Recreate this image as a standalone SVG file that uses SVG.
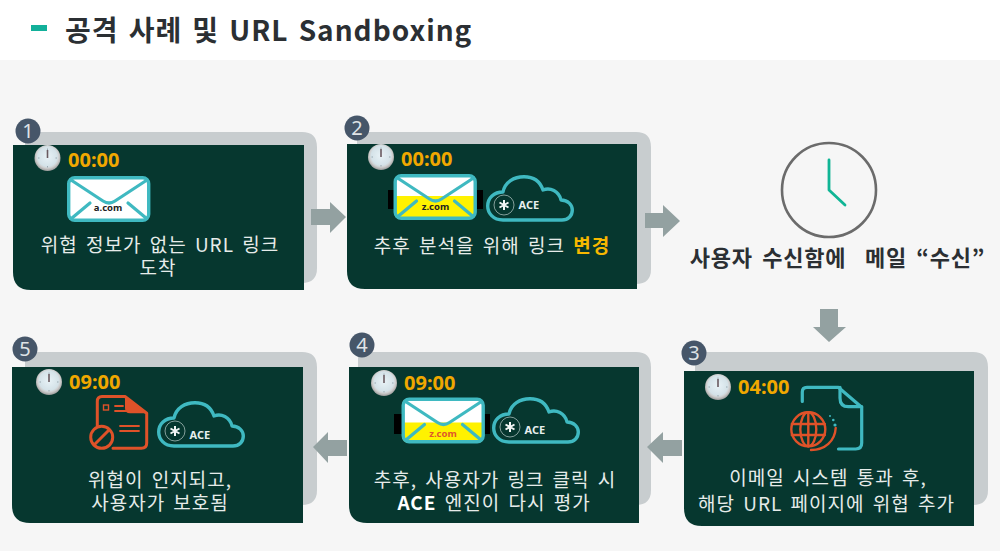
<svg xmlns="http://www.w3.org/2000/svg" width="1000" height="551" viewBox="0 0 1000 551">
<style>
text{font-family:"Noto Sans CJK KR","Noto Sans",sans-serif}
.card{fill:#06372f}
.back{fill:#c8cdcf}
.badge{fill:#465669}
.num{fill:#dfe3e6;font-family:"Noto Sans",sans-serif;font-size:20px;text-anchor:middle}
.time{fill:#f0a800;font-family:"Noto Sans",sans-serif;font-weight:700;font-size:20px}
.lbl{fill:#e6ecea;font-size:19px;text-anchor:middle;letter-spacing:1px;word-spacing:3px}
.em{font-weight:700}
.dom{font-family:"Noto Sans",sans-serif;font-weight:700;font-size:9.5px;text-anchor:middle}
.ace{fill:#e8efee;font-family:"Noto Sans",sans-serif;font-weight:700;font-size:11px}
.arrow{fill:#93a1a1}
.teal{fill:none;stroke:#3fb9c1;stroke-width:3.2;stroke-linecap:round;stroke-linejoin:round}
.org{fill:none;stroke:#df5229;stroke-linecap:round;stroke-linejoin:round}
</style>
<defs>
<radialGradient id="face" cx=".5" cy=".45" r=".55">
<stop offset="0" stop-color="#e8f2f6"/><stop offset=".68" stop-color="#d4e2e8"/><stop offset=".8" stop-color="#cfcfcf"/><stop offset="1" stop-color="#9a9a9a"/>
</radialGradient>
<g id="stopwatch">
<circle r="13" fill="url(#face)"/>
<path d="M0-8V0" stroke="#6a5a60" stroke-width="1.6"/>
<path d="M0-9.500V-8M0 8V9.500M-9.500 0H-8M8 0H9.500" stroke="#9aa9b0" stroke-width="1"/>
</g>
<g id="envline">
<rect x="1.700" y="1.700" width="80" height="42.500" rx="6" fill="none" stroke="#3fb9c1" stroke-width="3.400"/>
<path class="teal" d="M4 4L36 25Q42 29 48 25L80 4M5 42L23 27M79 42L61 27"/>
</g>
<g id="cloud">
<path class="teal" style="stroke-width:3.400" d="M17 45C7 45 1.700 38 1.700 31C1.700 23 8 17 17 17C19 7 28 1.700 38 1.700C47 1.700 54 6 57 15C64 12 73 16 75 25C82 25 86.300 30 86.300 35C86.300 41 82 45 76 45Z"/>
<circle cx="18" cy="30" r="10" fill="none" stroke="#b9cbc8" stroke-width=".7"/>
<path d="M18 25V35M13.500 27.500L22.500 32.500M22.500 27.500L13.500 32.500" stroke="#f2f6f5" stroke-width="2"/>
</g>
</defs>
<rect width="1000" height="551" fill="#f6f6f6"/>
<rect width="1000" height="60" fill="#ffffff"/>
<rect x="31" y="25" width="16" height="6" fill="#12b09a"/>
<text x="65" y="41" font-size="28" font-weight="700" fill="#2b2f33" letter-spacing="1" word-spacing="2.800">공격 사례 및 URL Sandboxing</text>

<g id="node1">
<path class="back" d="M25 132H302Q317 132 317 147V268Q317 283 302 283H25Z"/>
<path class="card" d="M13 145H304V290H31Q13 290 13 272Z"/>
<circle class="badge" cx="28" cy="131" r="12.500"/><text class="num" x="28" y="138">1</text>
<use href="#stopwatch" x="47.500" y="158"/>
<text class="time" x="68" y="167">00:00</text>
<g transform="translate(67 176)"><rect x="1" y="1" width="81" height="44" rx="6" fill="#fff"/><use href="#envline"/></g>
<text class="dom" x="108" y="211" fill="#222">a.com</text>
<text class="lbl" x="160" y="252">위협 정보가 없는 URL 링크</text>
<text class="lbl" x="158" y="275">도착</text>
</g>

<g id="node2">
<path class="back" d="M357 132H636Q651 132 651 147V269Q651 284 636 284H357Z"/>
<path class="card" d="M347 144H637V289H365Q347 289 347 271Z"/>
<circle class="badge" cx="357" cy="128" r="12.500"/><text class="num" x="357" y="135">2</text>
<use href="#stopwatch" x="381" y="157"/>
<text class="time" x="401" y="166">00:00</text>
<rect x="388" y="190" width="6" height="19" fill="#000"/><rect x="477" y="190" width="6" height="19" fill="#000"/>
<g transform="translate(393.500 174)"><rect x="1" y="1" width="81" height="44" rx="6" fill="#fff"/><path d="M1 22H82V39Q82 45 76 45H7Q1 45 1 39Z" fill="#fff200"/><use href="#envline"/></g>
<text class="dom" x="435.500" y="210" fill="#222">z.com</text>
<use href="#cloud" x="486" y="175"/>
<text class="ace" x="518.500" y="209">ACE</text>
<text class="lbl" x="492" y="253">추후 분석을 위해 링크 <tspan class="em" fill="#f7b800">변경</tspan></text>
</g>

<g id="wait">
<circle cx="829" cy="190" r="47" fill="none" stroke="#6b6b6b" stroke-width="2.600"/>
<path d="M829 160V190L845 205" fill="none" stroke="#10b595" stroke-width="2.800" stroke-linecap="round" stroke-linejoin="round"/>
<text x="837.500" y="266" font-size="22" font-weight="700" fill="#2b2f33" text-anchor="middle" xml:space="preserve" letter-spacing=".8" word-spacing="3.500">사용자 수신함에  메일 “수신”</text>
</g>

<g id="node3">
<path class="back" d="M695 352H973Q988 352 988 367V490Q988 505 973 505H695Z"/>
<path class="card" d="M684 371H974V526H702Q684 526 684 508Z"/>
<circle class="badge" cx="694" cy="353" r="12.500"/><text class="num" x="694" y="360">3</text>
<use href="#stopwatch" x="718" y="387"/>
<text class="time" x="738" y="394">04:00</text>
<path class="teal" d="M802.300 401.500V392Q802.300 387.300 807 387.300H838.300L861.700 407.300V443Q861.700 449 855.700 449H838.500"/>
<path class="teal" d="M840 387.300V398Q840 406.700 848.300 406.700H861.700"/>
<g class="org" stroke-width="2.400">
<circle cx="808.300" cy="429.300" r="17"/>
<ellipse cx="808.300" cy="429.300" rx="8" ry="17"/>
<path d="M808.300 412.300V446.300M791.800 424H824.800M791.800 435H824.800M811 450C825 450 835 441 835.700 428"/>
</g>
<g fill="#3fb9c1"><circle cx="830" cy="416" r="1"/><circle cx="833.300" cy="420" r="1.300"/><circle cx="835" cy="425" r="1.600"/></g>
<text class="lbl" x="828" y="485">이메일 시스템 통과 후,</text>
<text class="lbl" x="826.500" y="511">해당 URL 페이지에 위협 추가</text>
</g>

<g id="node4">
<path class="back" d="M358 352H636Q651 352 651 367V490Q651 505 636 505H358Z"/>
<path class="card" d="M349 367H639V523H367Q349 523 349 505Z"/>
<circle class="badge" cx="362" cy="345" r="12.500"/><text class="num" x="362" y="352">4</text>
<use href="#stopwatch" x="384" y="383"/>
<text class="time" x="404" y="390">09:00</text>
<rect x="394" y="414" width="8" height="20" fill="#000"/><rect x="484" y="414" width="6" height="20" fill="#000"/>
<g transform="translate(401.500 397.500)"><rect x="1" y="1" width="81" height="44" rx="6" fill="#fff"/><path d="M1 25H82V39Q82 45 76 45H7Q1 45 1 39Z" fill="#fff200"/><use href="#envline"/></g>
<text class="dom" x="443" y="437" fill="#e0562a">z.com</text>
<use href="#cloud" x="492" y="397"/>
<text class="ace" x="524.500" y="434">ACE</text>
<text class="lbl" x="495" y="487">추후, 사용자가 링크 클릭 시</text>
<text class="lbl" x="494" y="510"><tspan class="em" fill="#fff">ACE</tspan> 엔진이 다시 평가</text>
</g>

<g id="node5">
<path class="back" d="M25 352H302Q317 352 317 367V490Q317 505 302 505H25Z"/>
<path class="card" d="M12 367H303V523H30Q12 523 12 505Z"/>
<circle class="badge" cx="25" cy="349" r="12.500"/><text class="num" x="25" y="356">5</text>
<use href="#stopwatch" x="49" y="382"/>
<text class="time" x="69" y="389">09:00</text>
<g class="org" stroke-width="3">
<path d="M97.300 426V401.500Q97.300 396.500 102 396.500H125L146.700 413.300V443Q146.700 448.300 141.500 448.300H113"/>
<circle cx="101.700" cy="437.300" r="11"/>
<path d="M95 444L108.500 430.500"/>
<path stroke-width="1.800" d="M120 426H139M120 431H139M115 406H123M115 411H132"/>
</g>
<path d="M125 396.500L146.700 413.300H130Q125 413.300 125 408Z" fill="#df5229"/>
<rect x="103.500" y="405" width="5" height="5" fill="none" stroke="#df5229" stroke-width="1.400"/>
<use href="#cloud" x="157" y="401"/>
<text class="ace" x="189.500" y="439">ACE</text>
<text class="lbl" x="160" y="487">위협이 인지되고,</text>
<text class="lbl" x="160" y="510">사용자가 보호됨</text>
</g>

<g id="connectors">
<path class="arrow" d="M311 209H330V202L346 217L330 233V225H311Z"/>
<path class="arrow" d="M645 213H663V205L680 221L663 237V228H645Z"/>
<path class="arrow" d="M820 309H838V327H846L829 342L813 327H820Z"/>
<path class="arrow" d="M682 440H663V432L647 447L663 463V456H682Z"/>
<path class="arrow" d="M347 440H328V432L313 447L328 463V456H347Z"/>
</g>
</svg>
